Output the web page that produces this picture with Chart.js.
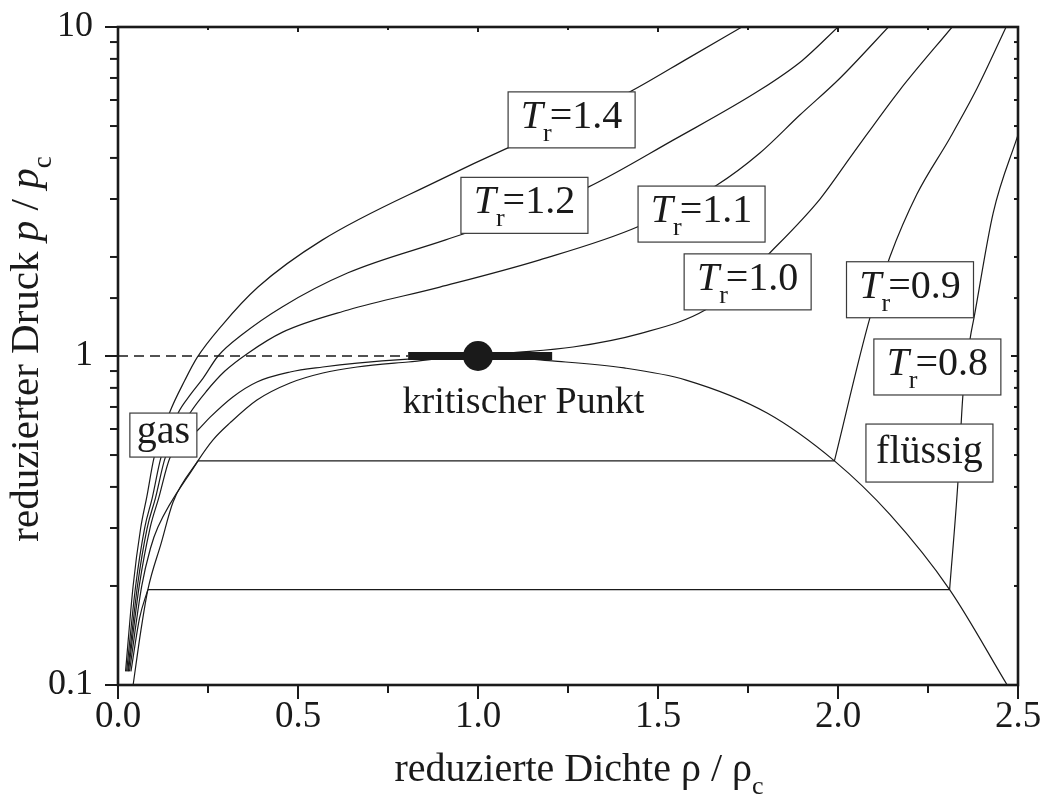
<!DOCTYPE html>
<html>
<head>
<meta charset="utf-8">
<title>Isothermen im reduzierten p-rho-Diagramm</title>
<script src="https://cdn.jsdelivr.net/npm/chart.js"></script>
<style>
    html, body { margin: 0; padding: 0; background: #ffffff; }
    #wrap { width: 1043px; height: 805px; position: relative; }
</style>
</head>
<body>
<div id="wrap"><canvas id="chart"></canvas></div>
<script>
// reduced density rho/rho_c (x) and reduced pressure p/p_c (y)

// isotherm T_r = 1.4
var rho14 = [0.021, 0.042, 0.063, 0.080, 0.100, 0.144, 0.186, 0.220, 0.289, 0.389, 0.567, 0.894, 1.083, 1.260, 1.422, 1.589, 1.733];
var p14   = [0.11, 0.20, 0.30, 0.373, 0.49, 0.676, 0.845, 0.99, 1.24, 1.62, 2.25, 3.43, 4.29, 5.2, 6.35, 8.1, 10];

// isotherm T_r = 1.2
var rho12 = [0.024, 0.049, 0.074, 0.095, 0.119, 0.167, 0.200, 0.236, 0.278, 0.344, 0.456, 0.639, 0.908, 1.129, 1.306, 1.542, 1.783, 1.900, 2.0];
var p12   = [0.11, 0.20, 0.30, 0.37, 0.49, 0.671, 0.76, 0.855, 1.0, 1.16, 1.41, 1.79, 2.25, 2.72, 3.26, 4.53, 6.43, 7.9, 10];

// isotherm T_r = 1.1
var rho11 = [0.027, 0.054, 0.081, 0.104, 0.131, 0.200, 0.245, 0.297, 0.361, 0.456, 0.639, 0.894, 1.172, 1.444, 1.664, 1.783, 1.894, 2.006, 2.14];
var p11   = [0.11, 0.20, 0.30, 0.37, 0.49, 0.671, 0.78, 0.90, 1.02, 1.18, 1.38, 1.62, 1.96, 2.47, 3.31, 4.14, 5.4, 7.0, 10];

// critical isotherm T_r = 1.0
var rho10 = [0.029, 0.059, 0.089, 0.113, 0.144, 0.185, 0.222, 0.256, 0.319, 0.386, 0.478, 0.569, 0.664, 0.806, 1.0, 1.08, 1.264, 1.45, 1.631, 1.72, 1.811, 1.95, 2.04, 2.17, 2.317];
var p10   = [0.11, 0.20, 0.30, 0.37, 0.49, 0.55, 0.596, 0.652, 0.751, 0.834, 0.894, 0.926, 0.952, 0.979, 1.0, 1.02, 1.065, 1.17, 1.38, 1.65, 2.06, 3.0, 4.1, 6.4, 10];

// isotherm T_r = 0.9: gas branch, tie line, liquid branch
var rho09Gas = [0.032, 0.066, 0.090, 0.111, 0.222];
var p09Gas   = [0.11, 0.20, 0.26, 0.302, 0.48];
var rho09Tie = [0.222, 1.99];
var p09Tie   = [0.48, 0.48];
var rho09Liq = [1.99, 2.089, 2.144, 2.219, 2.311, 2.386, 2.467];
var p09Liq   = [0.48, 1.31, 2.0, 3.1, 4.6, 6.5, 10];

// isotherm T_r = 0.8: gas branch, tie line, liquid branch
var rho08Gas = [0.036, 0.060, 0.083];
var p08Gas   = [0.11, 0.16, 0.195];
var rho08Tie = [0.083, 2.31];
var p08Tie   = [0.195, 0.195];
var rho08Liq = [2.31, 2.333, 2.347, 2.367, 2.378, 2.431, 2.5];
var p08Liq   = [0.195, 0.411, 0.761, 1.13, 1.31, 2.72, 4.7];

// coexistence curve
var rhoDome = [0.042, 0.063, 0.083, 0.12, 0.153, 0.222, 0.264, 0.311, 0.386, 0.478, 0.569, 0.664, 0.806, 1.0, 1.206, 1.406, 1.578, 1.803, 1.99, 2.144, 2.31, 2.47];
var pDome   = [0.10, 0.145, 0.195, 0.27, 0.36, 0.48, 0.556, 0.626, 0.735, 0.828, 0.888, 0.926, 0.959, 1.0, 0.966, 0.92, 0.845, 0.671, 0.48, 0.33, 0.195, 0.10];

// critical point, its bar and the dashed p = p_c line
var critRho = [1.0];
var critP   = [1.0];
var barRho  = [0.806, 1.206];
var barP    = [1.0, 1.0];
var dashRho = [0.0, 0.806];
var dashP   = [1.0, 1.0];

// tick labels
var xLabelAt   = [0, 0.5, 1.0, 1.5, 2.0, 2.5];
var xLabelText = ['0.0', '0.5', '1.0', '1.5', '2.0', '2.5'];
var yLabelAt   = [0.1, 1, 10];
var yLabelText = ['0.1', '1', '10'];

var ink = '#1a1a1a';
var serif = '"Liberation Serif", "Times New Roman", serif';
Chart.defaults.font.family = serif;
Chart.defaults.color = ink;

function pts(xs, ys) {
    return xs.map(function (x, i) { return { x: x, y: ys[i] }; });
}

function curve(xs, ys, extra) {
    var d = { data: pts(xs, ys), showLine: true, pointRadius: 0, borderColor: ink,
              borderWidth: 1.2, cubicInterpolationMode: 'monotone', fill: false };
    for (var k in (extra || {})) d[k] = extra[k];
    return d;
}

// boxed labels, anchored in data coordinates (box centre)
var boxLabels = [
    { parts: [['T', 'it'], ['r', 'sub'], ['=1.4', '']], rho: 1.26,  p: 5.22,  w: 127, h: 56, base: 8 },
    { parts: [['T', 'it'], ['r', 'sub'], ['=1.2', '']], rho: 1.129, p: 2.87,  w: 127, h: 56, base: 8 },
    { parts: [['T', 'it'], ['r', 'sub'], ['=1.1', '']], rho: 1.621, p: 2.70,  w: 127, h: 56, base: 8 },
    { parts: [['T', 'it'], ['r', 'sub'], ['=1.0', '']], rho: 1.749, p: 1.68,  w: 127, h: 56, base: 8 },
    { parts: [['T', 'it'], ['r', 'sub'], ['=0.9', '']], rho: 2.2,   p: 1.59,  w: 127, h: 56, base: 8 },
    { parts: [['T', 'it'], ['r', 'sub'], ['=0.8', '']], rho: 2.276, p: 0.926, w: 127, h: 56, base: 8 },
    { parts: [['flüssig', '']],                          rho: 2.254, p: 0.507, w: 127, h: 58, base: 10 },
    { parts: [['gas', '']],                              rho: 0.126, p: 0.575, w: 67,  h: 44, base: 8 }
];

function fontFor(style, size) {
    if (style === 'it') return 'italic ' + size + 'px ' + serif;
    if (style === 'sub') return Math.round(size * 0.66) + 'px ' + serif;
    return size + 'px ' + serif;
}

function partsWidth(ctx, parts, size) {
    var w = 0;
    parts.forEach(function (pt) {
        ctx.font = fontFor(pt[1], size);
        w += ctx.measureText(pt[0]).width + (pt[1] === 'sub' ? -2 : 0);
    });
    return w;
}

// draws text runs starting at x on baseline y (subscripts lowered)
function drawParts(ctx, parts, x, y, size) {
    ctx.textAlign = 'left';
    ctx.textBaseline = 'alphabetic';
    parts.forEach(function (pt) {
        ctx.font = fontFor(pt[1], size);
        var dy = pt[1] === 'sub' ? size * 0.32 : 0;
        ctx.fillText(pt[0], x, y + dy);
        x += ctx.measureText(pt[0]).width + (pt[1] === 'sub' ? -2 : 0);
    });
}

var decor = {
    id: 'decor',
    afterDatasetsDraw: function (chart) {
        var ctx = chart.ctx, xs = chart.scales.x, ys = chart.scales.y;
        ctx.save();
        boxLabels.forEach(function (b) {
            var cx = xs.getPixelForValue(b.rho), cy = ys.getPixelForValue(b.p);
            ctx.fillStyle = '#ffffff';
            ctx.fillRect(cx - b.w / 2, cy - b.h / 2, b.w, b.h);
            ctx.strokeStyle = '#3a3a3a';
            ctx.lineWidth = 1.2;
            ctx.strokeRect(cx - b.w / 2, cy - b.h / 2, b.w, b.h);
            ctx.fillStyle = ink;
            var tw = partsWidth(ctx, b.parts, 40);
            drawParts(ctx, b.parts, cx - tw / 2, cy + b.base, 40);
        });
        // label below the critical point
        var kp = [['kritischer Punkt', '']];
        var kx = xs.getPixelForValue(1.126), ky = ys.getPixelForValue(0.671);
        ctx.fillStyle = ink;
        drawParts(ctx, kp, kx - partsWidth(ctx, kp, 38) / 2, ky, 38);
        ctx.restore();
    },
    afterDraw: function (chart) {
        var ctx = chart.ctx, xs = chart.scales.x, ys = chart.scales.y, a = chart.chartArea;
        ctx.save();
        ctx.strokeStyle = ink;
        ctx.lineWidth = 2;
        function seg(x1, y1, x2, y2) { ctx.beginPath(); ctx.moveTo(x1, y1); ctx.lineTo(x2, y2); ctx.stroke(); }
        xs.ticks.forEach(function (t) {
            var px = xs.getPixelForValue(t.value);
            var major = Math.abs(t.value * 2 - Math.round(t.value * 2)) < 1e-6;
            seg(px, a.bottom, px, a.bottom + (major ? 14 : 8));
            seg(px, a.top, px, a.top + (major ? 5 : 3));
        });
        ys.ticks.forEach(function (t) {
            var py = ys.getPixelForValue(t.value);
            var l = Math.log10(t.value);
            var major = Math.abs(l - Math.round(l)) < 1e-6;
            seg(a.left - (major ? 13 : 8), py, a.left, py);
            seg(a.right - (major ? 7 : 4), py, a.right, py);
        });
        ctx.lineWidth = 2.6;
        ctx.strokeRect(a.left, a.top, a.right - a.left, a.bottom - a.top);

        // axis titles
        ctx.fillStyle = ink;
        var xt = [['reduzierte Dichte ρ / ρ', ''], ['c', 'sub']];
        var cx = (a.left + a.right) / 2 + 10;
        drawParts(ctx, xt, cx - partsWidth(ctx, xt, 40) / 2, 781, 40);

        var yt = [['reduzierter Druck ', ''], ['p', 'it'], [' / ', ''], ['p', 'it'], ['c', 'sub']];
        ctx.translate(38, (a.top + a.bottom) / 2 - 6);
        ctx.rotate(-Math.PI / 2);
        drawParts(ctx, yt, -partsWidth(ctx, yt, 41) / 2, 0, 41);
        ctx.restore();
    }
};

new Chart(document.getElementById('chart').getContext('2d'), {
    type: 'scatter',
    data: {
        datasets: [
            { data: pts(critRho, critP), pointRadius: 15, pointBackgroundColor: ink, pointBorderWidth: 0 },
            curve(barRho, barP, { borderWidth: 8, cubicInterpolationMode: 'default', tension: 0, borderCapStyle: 'butt' }),
            curve(dashRho, dashP, { borderDash: [10, 6], borderWidth: 1.4, cubicInterpolationMode: 'default', tension: 0 }),
            curve(rhoDome, pDome),
            curve(rho14, p14),
            curve(rho12, p12),
            curve(rho11, p11),
            curve(rho10, p10),
            curve(rho09Gas, p09Gas),
            curve(rho09Tie, p09Tie),
            curve(rho09Liq, p09Liq),
            curve(rho08Gas, p08Gas),
            curve(rho08Tie, p08Tie),
            curve(rho08Liq, p08Liq)
        ]
    },
    options: {
        responsive: true,
        maintainAspectRatio: false,
        animation: false,
        events: [],
        layout: { padding: { top: 27, right: 25, left: 0, bottom: 0 } },
        plugins: { legend: { display: false }, tooltip: { enabled: false } },
        scales: {
            x: {
                type: 'linear',
                min: 0,
                max: 2.5,
                afterFit: function (s) { s.height = 120; s.paddingLeft = 0; s.paddingRight = 0; },
                grid: { display: false, drawTicks: false },
                border: { display: false },
                ticks: {
                    stepSize: 0.25,
                    autoSkip: false,
                    maxRotation: 0,
                    padding: 10,
                    font: { size: 37 },
                    color: ink,
                    callback: function (v) {
                        var i = xLabelAt.findIndex(function (t) { return Math.abs(t - v) < 1e-6; });
                        return i < 0 ? '' : xLabelText[i];
                    }
                }
            },
            y: {
                type: 'logarithmic',
                min: 0.1,
                max: 10,
                afterFit: function (s) { s.width = 118; s.paddingTop = 0; s.paddingBottom = 0; },
                grid: { display: false, drawTicks: false },
                border: { display: false },
                ticks: {
                    autoSkip: false,
                    padding: 25,
                    font: { size: 36 },
                    color: ink,
                    callback: function (v) {
                        var i = yLabelAt.findIndex(function (t) { return Math.abs(t - v) / t < 1e-6; });
                        return i < 0 ? '' : yLabelText[i];
                    }
                }
            }
        }
    },
    plugins: [decor]
});
</script>
</body>
</html>
